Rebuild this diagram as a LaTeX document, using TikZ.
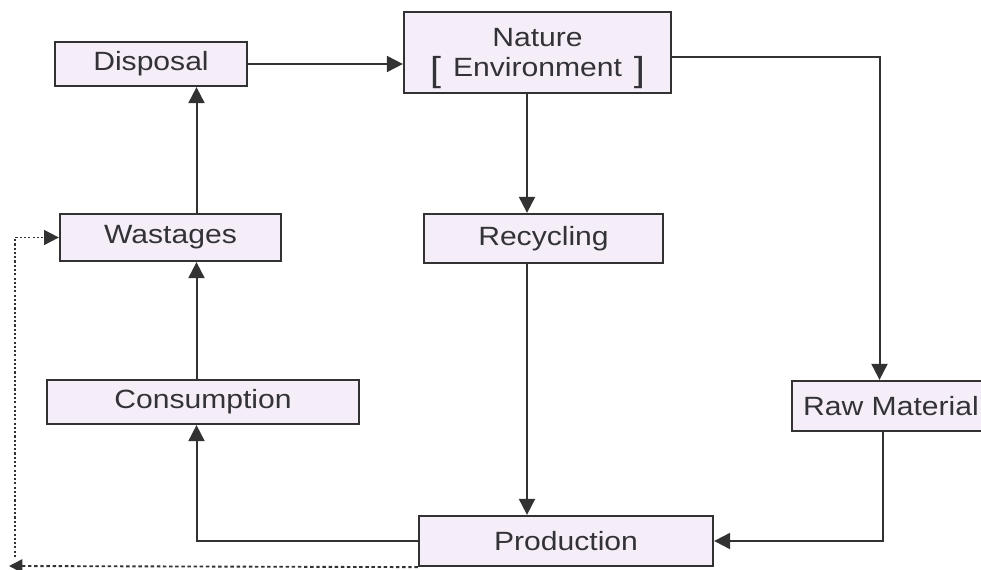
\documentclass[tikz,border=0pt]{standalone}
\usepackage{fontspec}
\setmainfont{Liberation Sans}[FakeStretch=1.14]
\usetikzlibrary{arrows.meta}
\definecolor{boxfill}{RGB}{245,238,249}
\definecolor{ink}{RGB}{50,50,50}
\definecolor{txt}{RGB}{50,50,56}
\newcommand{\bigbr}[1]{\raisebox{-3.5pt}[0pt][0pt]{\fontsize{26}{26}\selectfont #1}}
\tikzset{
  blk/.style={draw=ink, line width=1.7pt, fill=boxfill, text=txt, inner sep=0pt,
    font=\fontsize{19.8}{22.5}\selectfont, align=center},
  arr/.style={draw=ink, line width=1.5pt, -{Triangle[length=12pt,width=12pt]}},
  dasharr/.style={draw=ink, line width=1.4pt, dash pattern=on 2.6pt off 2pt, -{Triangle[length=10pt,width=10pt]}},
  dotarr/.style={draw=ink, line width=1.4pt, dash pattern=on 1.6pt off 1.6pt, -{Triangle[length=11pt,width=11pt]}}
}
\begin{document}
\begin{tikzpicture}[x=0.75pt,y=-0.75pt]
\useasboundingbox (0,0) rectangle (981,570);
\node[blk, minimum width=192*0.75pt, minimum height=44*0.75pt] (disp) at (151,64) {Disposal};
\node[blk, minimum width=267*0.75pt, minimum height=81*0.75pt] (nat) at (537.5,52.5) {Nature\\\bigbr{[}\hspace{9pt}Environment\hspace{9pt}\bigbr{]}};
\node[blk, minimum width=221*0.75pt, minimum height=47*0.75pt] (wast) at (170.5,237.5) {Wastages};
\node[blk, minimum width=239*0.75pt, minimum height=49*0.75pt] (recy) at (543.5,238.5) {Recycling};
\node[blk, minimum width=312*0.75pt, minimum height=44*0.75pt] (cons) at (203,402) {Consumption};
\node[blk, minimum width=198*0.75pt, minimum height=50*0.75pt] (raw) at (891,406) {Raw Material};
\node[blk, minimum width=294*0.75pt, minimum height=50*0.75pt] (prod) at (566,541) {Production};
\coordinate (colL) at (196.5,0);
\coordinate (colM) at (527,0);
\coordinate (colR) at (879.5,0);
\coordinate (colR2) at (883,0);
\coordinate (rowA) at (0,57);
\coordinate (dl) at (9,566);
\coordinate (dv) at (15,557);
\draw[arr] (disp.east) -- (nat.west |- disp.east);
\draw[arr] (wast.north -| colL) -- (disp.south -| colL);
\draw[arr] (cons.north -| colL) -- (wast.south -| colL);
\draw[arr] (prod.west) -| (cons.south -| colL);
\draw[arr] (nat.south -| colM) -- (recy.north -| colM);
\draw[arr] (recy.south -| colM) -- (prod.north -| colM);
\draw[arr] (nat.east |- rowA) -| (raw.north -| colR);
\draw[arr] (raw.south -| colR2) |- (prod.east);
\draw[dasharr] (prod.south west) -- (dl);
\draw[dotarr] (dv) |- (wast.west);
\end{tikzpicture}
\end{document}
